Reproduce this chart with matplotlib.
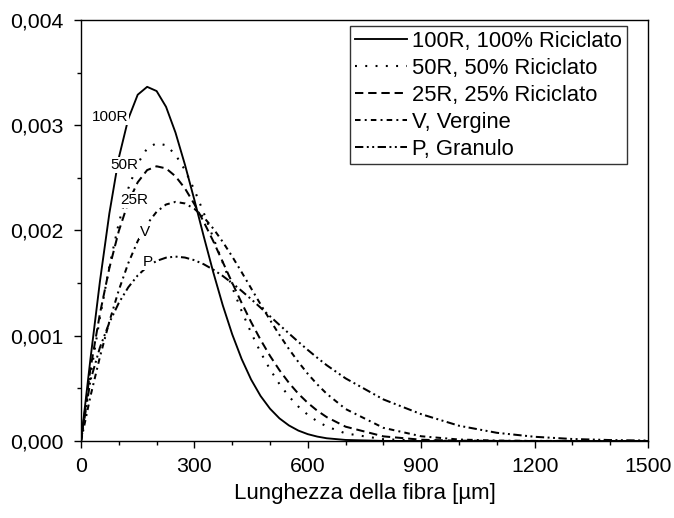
import matplotlib
matplotlib.use("Agg")
import matplotlib.pyplot as plt
from matplotlib.ticker import MultipleLocator

plt.rcParams['font.family'] = ['Liberation Sans', 'DejaVu Sans']
plt.rcParams['lines.scale_dashes'] = False

# fibre length [um]
x_um = [0, 25, 50, 75, 100, 125, 150, 175, 200, 225, 250, 275, 300, 325, 350,
        375, 400, 425, 450, 475, 500, 525, 550, 575, 600, 625, 650, 700, 800,
        900, 1000, 1100, 1200, 1300, 1400, 1500]

r100 = [0, 0.000780, 0.001514, 0.002162, 0.002690, 0.003060, 0.003290, 0.003365,
        0.003325, 0.003175, 0.002930, 0.002625, 0.002290, 0.001940, 0.001602,
        0.001290, 0.001014, 0.000779, 0.000584, 0.000428, 0.000307, 0.000215,
        0.000148, 0.000099, 0.000065, 0.000042, 0.000026, 0.000010, 0.000001,
        0, 0, 0, 0, 0, 0, 0]

r50 = [0, 0.000620, 0.001171, 0.001659, 0.002071, 0.002398, 0.002635, 0.002781,
       0.002830, 0.002810, 0.002720, 0.002575, 0.002385, 0.002165, 0.001930,
       0.001695, 0.001459, 0.001235, 0.001029, 0.000843, 0.000681, 0.000541,
       0.000424, 0.000327, 0.000249, 0.000187, 0.000138, 0.000072, 0.000017,
       0.000003, 0, 0, 0, 0, 0, 0]

r25 = [0, 0.000687, 0.001209, 0.001643, 0.001995, 0.002267, 0.002458, 0.002574,
       0.002610, 0.002590, 0.002515, 0.002400, 0.002250, 0.002080, 0.001898,
       0.001701, 0.001503, 0.001312, 0.001130, 0.000962, 0.000809, 0.000673,
       0.000553, 0.000449, 0.000362, 0.000288, 0.000227, 0.000136, 0.000044,
       0.000012, 0.000003, 0.000001, 0, 0, 0, 0]

vv = [0, 0.000425, 0.000798, 0.001135, 0.001433, 0.001689, 0.001899, 0.002062,
      0.002178, 0.002247, 0.002272, 0.002257, 0.002206, 0.002125, 0.002018,
      0.001892, 0.001753, 0.001604, 0.001451, 0.001299, 0.001150, 0.001008,
      0.000874, 0.000751, 0.000638, 0.000538, 0.000449, 0.000304, 0.000125,
      0.000045, 0.000014, 0.000004, 0.000001, 0, 0, 0]

pp = [0, 0.000576, 0.000888, 0.001125, 0.001312, 0.001460, 0.001573, 0.001655,
      0.001711, 0.001742, 0.001752, 0.001743, 0.001718, 0.001679, 0.001628,
      0.001568, 0.001500, 0.001426, 0.001348, 0.001267, 0.001185, 0.001103,
      0.001022, 0.000942, 0.000865, 0.000791, 0.000720, 0.000595, 0.000395,
      0.000255, 0.000145, 0.000078, 0.000040, 0.000019, 0.000009, 0.000004]

legend_labels = ["100R, 100% Riciclato", "50R, 50% Riciclato", "25R, 25% Riciclato",
                 "V, Vergine", "P, Granulo"]
curve_tags = ["100R", "50R", "25R", "V", "P"]
tag_x = [77, 114, 140, 169, 176]
tag_y = [0.00308, 0.00262, 0.00229, 0.00199, 0.00170]

x_ticks = [0, 300, 600, 900, 1200, 1500]
y_ticks = [0.000, 0.001, 0.002, 0.003, 0.004]
y_ticklabels = ["0,000", "0,001", "0,002", "0,003", "0,004"]

series = [r100, r50, r25, vv, pp]
styles = ['-', (0, (1.4, 6.0)), (0, (6.0, 3.5)), (0, (4.0, 3.0, 1.4, 3.0)),
          (0, (6.0, 2.5, 1.4, 2.5, 1.4, 2.5))]
widths = [1.35, 1.5, 1.45, 1.45, 1.45]

fig = plt.figure(figsize=(6.74, 5.18), dpi=100)
ax = fig.add_axes([81 / 674, 1 - 441 / 518, (648 - 81) / 674, (441 - 20) / 518])

for ys, ls, lw, lab in zip(series, styles, widths, legend_labels):
    ax.plot(x_um, ys, color='black', linestyle=ls, linewidth=lw, label=lab)

for t, tx, ty in zip(curve_tags, tag_x, tag_y):
    ax.text(tx, ty, t, fontsize=11, ha='center', va='center', zorder=5,
            bbox=dict(boxstyle='square,pad=0.05', fc='white', ec='none'))

ax.set_xlim(0, 1500)
ax.set_ylim(0, 0.004)
ax.set_xticks(x_ticks)
ax.set_xticklabels([str(v) for v in x_ticks])
ax.set_yticks(y_ticks)
ax.set_yticklabels(y_ticklabels)
ax.xaxis.set_minor_locator(MultipleLocator(100))
ax.yaxis.set_minor_locator(MultipleLocator(0.0005))
ax.tick_params(which='major', direction='out', length=5, width=1.0,
               labelsize=15.3)
ax.tick_params(axis='x', which='major', pad=6.5)
ax.tick_params(axis='y', which='major', pad=7.5)
ax.tick_params(which='minor', direction='out', length=2.8, width=1.0)
for sp in ax.spines.values():
    sp.set_linewidth(1.0)

ax.set_xlabel("Lunghezza della fibra [µm]", fontsize=16, labelpad=5)

leg = ax.legend(loc='upper right', bbox_to_anchor=(627 / 674, 1 - 26 / 518),
                bbox_transform=fig.transFigure, frameon=True, fancybox=False,
                edgecolor='#333333', framealpha=1, fontsize=15.8,
                handlelength=2.4, handletextpad=0.23, labelspacing=0.27,
                borderpad=0.22, borderaxespad=0)
leg.get_frame().set_linewidth(1.0)

fig.savefig("out.png", dpi=100)
